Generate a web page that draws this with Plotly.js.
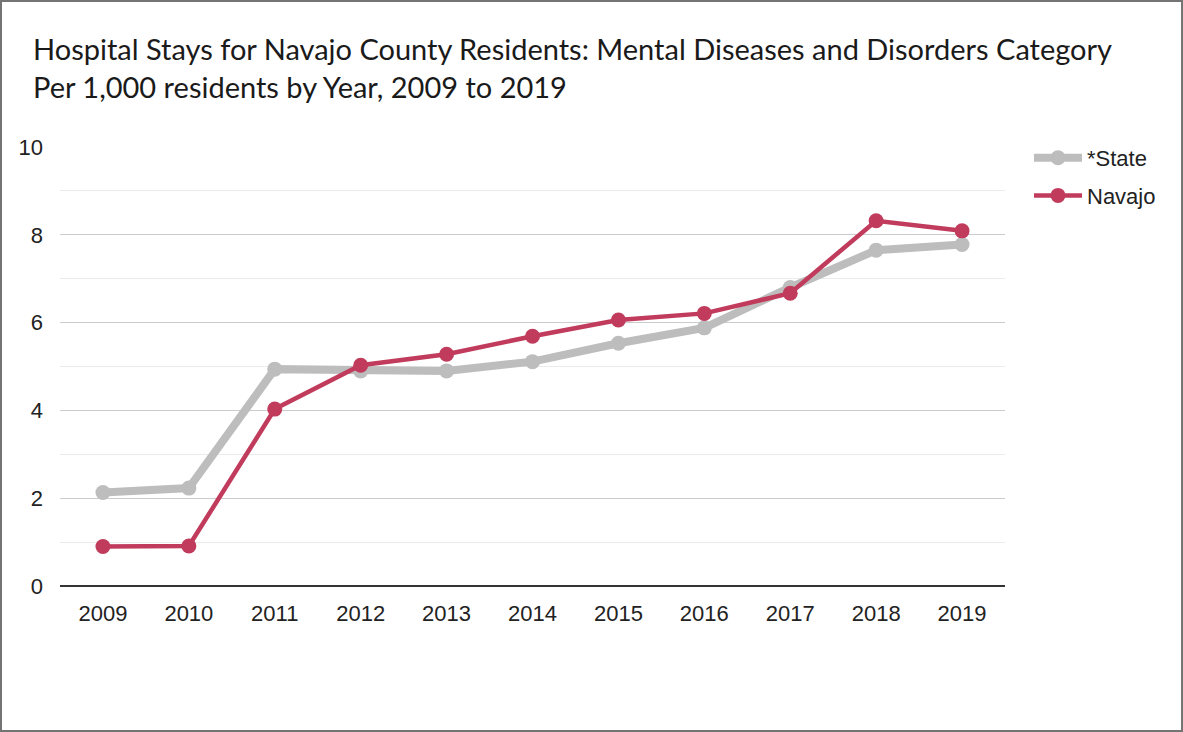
<!DOCTYPE html>
<html>
<head>
<meta charset="utf-8">
<script src="https://cdn.plot.ly/plotly-3.0.1.min.js"></script>
<style>
  html, body { margin: 0; padding: 0; background: #fff; }
  #wrap { position: relative; width: 1183px; height: 732px; }
  #chart { position: absolute; left: 0; top: 0; width: 1183px; height: 732px; }
  #frame { position: absolute; left: 0; top: 0; width: 1183px; height: 732px; box-sizing: border-box; border: 2px solid #747474; pointer-events: none; }
</style>
</head>
<body>
<div id="wrap"><div id="chart"></div><div id="frame"></div></div>
<script>
const years = ['2009','2010','2011','2012','2013','2014','2015','2016','2017','2018','2019'];
const stateValues = [2.13, 2.23, 4.94, 4.90, 4.90, 5.11, 5.53, 5.88, 6.80, 7.65, 7.78];
const navajoValues = [0.90, 0.91, 4.03, 5.03, 5.28, 5.69, 6.06, 6.21, 6.67, 8.32, 8.09];
const seriesNames = ['*State', 'Navajo'];
const titleLines = ['Hospital Stays for Navajo County Residents: Mental Diseases and Disorders Category', 'Per 1,000 residents by Year, 2009 to 2019'];
const yTicks = [0, 2, 4, 6, 8, 10];

const traces = [
  {
    x: years, y: stateValues, name: seriesNames[0], type: 'scatter', mode: 'lines+markers',
    legendgroup: 'a',
    line: { color: '#bdbdbd', width: 8 },
    marker: { color: '#bdbdbd', size: 15 }
  },
  {
    x: years, y: navajoValues, name: seriesNames[1], type: 'scatter', mode: 'lines+markers',
    legendgroup: 'b',
    line: { color: '#c13b5c', width: 4.5 },
    marker: { color: '#c13b5c', size: 15 }
  }
];

const tickFont = { family: '"Liberation Sans", Arial, sans-serif', size: 22, color: '#222' };

const layout = {
  width: 1183, height: 732,
  margin: { l: 60, r: 178, t: 147, b: 146 },
  paper_bgcolor: '#ffffff', plot_bgcolor: '#ffffff',
  showlegend: true,
  title: {
    text: titleLines.join('<br>'),
    font: { family: 'Lato, "Noto Sans", sans-serif', size: 29, color: '#1a1a1a' },
    xref: 'container', x: 33 / 1183, xanchor: 'left',
    yref: 'container', y: 1 - 60 / 732, yanchor: 'top'
  },
  xaxis: {
    type: 'category', range: [-0.5, 10.5],
    showgrid: false, zeroline: false, showline: false,
    ticks: '', ticklabelstandoff: 12,
    tickfont: tickFont,
    fixedrange: true
  },
  yaxis: {
    range: [0, 10], tickvals: yTicks,
    showgrid: true, gridcolor: '#cccccc', gridwidth: 1,
    minor: { dtick: 1, showgrid: true, gridcolor: '#ebebeb', gridwidth: 1 },
    zeroline: true, zerolinecolor: '#333333', zerolinewidth: 2,
    showline: false, ticks: '', ticklabelstandoff: 16,
    tickfont: tickFont,
    fixedrange: true
  },
  legend: {
    x: 1029 / 1183, xref: 'container', xanchor: 'left',
    y: 1 - 137 / 732, yref: 'container', yanchor: 'top',
    font: { family: '"Liberation Sans", Arial, sans-serif', size: 22, color: '#222' },
    traceorder: 'grouped', tracegroupgap: 6,
    itemwidth: 48, bgcolor: 'rgba(0,0,0,0)'
  }
};

Plotly.newPlot('chart', traces, layout, { displayModeBar: false, staticPlot: true });
</script>
</body>
</html>
